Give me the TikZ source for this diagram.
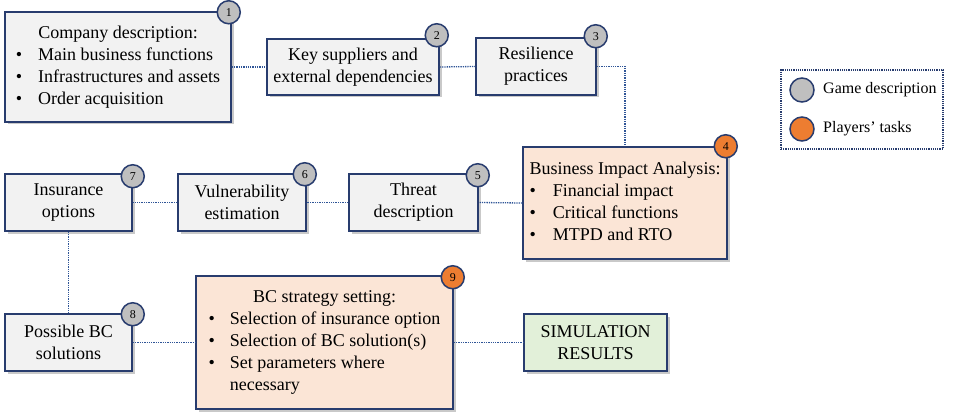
\documentclass[tikz,border=0pt]{standalone}
\usepackage{fontspec}
\setmainfont{Liberation Serif}
\usepackage{array}
\usetikzlibrary{shadows}

\begin{document}
\begin{tikzpicture}[x=1pt,y=-1pt,
	box/.style={draw=custcol_navy, line width=1.5pt, inner sep=0, align=center,
		font=\fontsize{18pt}{22pt}\selectfont,
		drop shadow={shadow xshift=2.5pt, shadow yshift=-2.5pt, opacity=0.3, fill=black!70}},
	greybox/.style={box, fill=custcol_f2_f2_f2},
	orangebox/.style={box, fill=custcol_fb_e5_d6},
	greenbox/.style={box, fill=custcol_e2_f0_d9},
	badge/.style={circle, draw=custcol_navy, line width=1.5pt, inner sep=0, minimum size=23pt,
		font=\fontsize{12pt}{12pt}\selectfont},
	greybadge/.style={badge, fill=custcol_bf_bf_bf},
	orangebadge/.style={badge, fill=custcol_ed_7d_31},
	link/.style={densely dotted, draw=custcol_blue, line width=1.3pt},
	legendbox/.style={draw=custcol_navy, densely dotted, line width=1.2pt, inner sep=0}]
	\definecolor{custcol_navy}{RGB}{40, 60, 110}
	\definecolor{custcol_blue}{RGB}{47, 85, 151}
	\definecolor{custcol_f2_f2_f2}{RGB}{242, 242, 242}
	\definecolor{custcol_fb_e5_d6}{RGB}{251, 229, 214}
	\definecolor{custcol_e2_f0_d9}{RGB}{226, 240, 217}
	\definecolor{custcol_bf_bf_bf}{RGB}{191, 191, 191}
	\definecolor{custcol_ed_7d_31}{RGB}{237, 125, 49}
	\useasboundingbox (0.0,0.0) rectangle (956.0,417.0);
	% first row
	\node[greybox, minimum width=226, minimum height=110] (company) at (118.0,67.0) {%
		\begin{tabular}{@{}l@{\hspace{16pt}}l@{}}
			\multicolumn{2}{@{}c@{}}{Company description:}\\
			\textbullet & Main business functions\\
			\textbullet & Infrastructures and assets\\
			\textbullet & Order acquisition
		\end{tabular}};
	\node[greybox, minimum width=172, minimum height=56] (suppliers) at (353.0,67.0) {Key suppliers and\\external dependencies};
	\node[greybox, minimum width=120, minimum height=57] (resilience) at (536.0,66.5) {Resilience\\practices};
	\node[orangebox, minimum width=204, minimum height=112] (bia) at (625.0,203.0) {%
		\begin{tabular}{@{}l@{\hspace{17pt}}l@{}}
			\multicolumn{2}{@{}l@{}}{Business Impact Analysis:}\\
			\textbullet & Financial impact\\
			\textbullet & Critical functions\\
			\textbullet & MTPD and RTO
		\end{tabular}};
	% second row
	\node[greybox, minimum width=129, minimum height=57] (threat) at (413.5,202.5) {Threat\\description};
	\node[greybox, minimum width=128, minimum height=57] (vulnerability) at (242.0,202.5) {Vulnerability\\estimation};
	\node[greybox, minimum width=127, minimum height=57] (insurance) at (68.5,202.5) {Insurance\\options};
	% third row
	\node[greybox, minimum width=127, minimum height=57] (solutions) at (68.5,342.5) {Possible BC\\solutions};
	\node[orangebox, minimum width=257, minimum height=133] (strategy) at (324.5,342.5) {%
		\begin{tabular}{@{}l@{\hspace{15pt}}l@{}}
			\multicolumn{2}{@{}c@{}}{BC strategy setting:}\\
			\textbullet & Selection of insurance option\\
			\textbullet & Selection of BC solution(s)\\
			\textbullet & Set parameters where\\
			& necessary
		\end{tabular}};
	\node[greenbox, minimum width=143, minimum height=57] (results) at (595.5,342.5) {SIMULATION\\RESULTS};
	% links
	\draw[link] (company.east) -- (suppliers.west);
	\draw[link] (suppliers.east) -- (resilience.west);
	\draw[link] (resilience.east) -| (bia.north);
	\draw[link] (bia.west) -- (threat.east);
	\draw[link] (threat.west) -- (vulnerability.east);
	\draw[link] (vulnerability.west) -- (insurance.east);
	\draw[link] (insurance.south) -- (solutions.north);
	\draw[link] (solutions.east) -- (strategy.west);
	\draw[link] (strategy.east) -- (results.west);
	% numbers
	\node[greybadge] (num1) at ([shift={(-3,1)}]company.north east) {1};
	\node[greybadge] (num2) at ([shift={(-3,-3)}]suppliers.north east) {2};
	\node[greybadge] (num3) at ([shift={(-1,-1)}]resilience.north east) {3};
	\node[orangebadge] (num4) at ([shift={(-2,0)}]bia.north east) {4};
	\node[greybadge] (num5) at ([shift={(-1,2)}]threat.north east) {5};
	\node[greybadge] (num6) at ([shift={(-2,1)}]vulnerability.north east) {6};
	\node[greybadge] (num7) at ([shift={(0,3)}]insurance.north east) {7};
	\node[greybadge] (num8) at ([shift={(0,1)}]solutions.north east) {8};
	\node[orangebadge] (num9) at ([shift={(-1,2)}]strategy.north east) {9};
	% legend
	\node[legendbox, minimum width=162, minimum height=79] (legend) at (862.0,109.5) {};
	\node[greybadge, minimum size=24pt] (keygame) at (802.0,90.0) {};
	\node[orangebadge, minimum size=24pt] (keytask) at (802.0,129.0) {};
	\node[inner sep=0, anchor=west, font=\fontsize{16pt}{16pt}\selectfont] (keygametext) at (823.0,90.0) {Game description};
	\node[inner sep=0, anchor=west, font=\fontsize{16pt}{16pt}\selectfont] (keytasktext) at (823.0,129.0) {Players’ tasks};
\end{tikzpicture}
\end{document}
